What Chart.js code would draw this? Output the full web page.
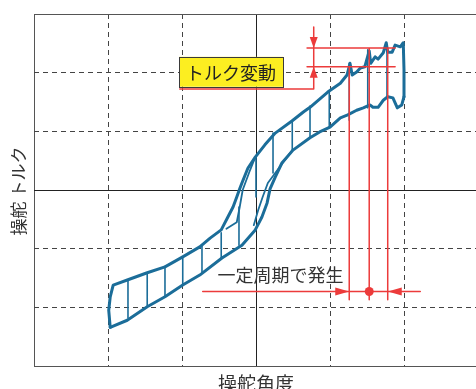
<!DOCTYPE html>
<html><head><meta charset="utf-8">
<script src="https://cdn.jsdelivr.net/npm/chart.js@4.4.1/dist/chart.umd.min.js"></script>
<style>html,body{margin:0;padding:0;background:#fff;overflow:hidden;width:476px;height:389px}#wrap{position:relative;width:480px;height:389px}canvas{display:block}</style>
</head><body><div id="wrap"><canvas id="c" width="480" height="389"></canvas></div>
<script>
// ---- data (axis units, grid -3..3) ----
const axisTitleX = '操舵角度';
const axisTitleY = '操舵 トルク';
const labelTorque = 'トルク変動';
const labelPeriod = '一定周期で発生';
const gridTicks = [-3, -2, -1, 0, 1, 2, 3];

const upperX = [-1.97,-1.99,-1.97,-1.93,-1.73,-1.47,-1.23,-0.99,-0.76,-0.62,-0.47,-0.38,-0.31,-0.26,-0.22,-0.19,-0.11,-0.01,0.12,0.26,0.49,0.64,0.73,0.97,1.14,1.23,1.27,1.30,1.36,1.41,1.47,1.53,1.55,1.61,1.65,1.72,1.76,1.78,1.84,1.88,1.95,1.99,2.00,2.00];
const upperY = [-2.34,-2.05,-1.82,-1.62,-1.53,-1.41,-1.31,-1.14,-0.97,-0.82,-0.68,-0.46,-0.29,-0.12,0.02,0.12,0.37,0.56,0.77,0.97,1.18,1.33,1.41,1.67,1.82,1.96,2.16,1.96,2.01,2.08,2.10,2.37,2.16,2.27,2.23,2.34,2.51,2.35,2.35,2.47,2.44,2.51,2.05,1.59];

const lowerX = [2.00,1.97,1.91,1.85,1.78,1.72,1.65,1.58,1.54,1.45,1.36,1.24,1.14,1.00,0.86,0.73,0.50,0.35,0.26,0.19,0.15,0.08,-0.01,-0.19,-0.46,-0.76,-0.99,-1.23,-1.47,-1.74,-1.97];
const lowerY = [1.59,1.45,1.40,1.57,1.59,1.53,1.41,1.41,1.45,1.40,1.36,1.28,1.23,1.07,0.99,0.89,0.68,0.46,0.22,0.02,-0.22,-0.46,-0.68,-0.94,-1.16,-1.45,-1.62,-1.82,-1.99,-2.22,-2.34];

const innerUpperX = [-0.01,-0.08,-0.18,-0.22,-0.26,-0.40];
const innerUpperY = [0.56,0.34,0.00,-0.29,-0.55,-0.66];
const innerLowerX = [0.49,0.26,0.16,0.09,0.03,-0.03];
const innerLowerY = [0.68,0.29,0.12,-0.12,-0.34,-0.60];

const rungX      = [-1.73,-1.47,-1.23,-0.99,-0.73,-0.47,-0.23,0,0.23,0.49,0.73,0.99,1.26,1.51,1.77];
const rungTop    = [-1.53,-1.41,-1.30,-1.14,-0.95,-0.73,-0.29,0.56,0.97,1.19,1.43,1.67,2.16,2.39,2.47];
const rungBottom = [-2.18,-1.99,-1.82,-1.60,-1.41,-1.16,-0.94,-0.12,0.29,0.68,0.90,1.07,1.19,1.40,1.57];

// annotation values
const bandY = [2.42, 2.10];
const bandX = [0.69, 1.88];
const leaderX = 0.78, leaderTopY = 2.78, leaderBottomY = 1.72, leaderLeftX = -1.03;
const periodX = [1.26, 1.53, 1.78];
const periodTopY = [2.10, 2.42, 2.42];
const periodBottomY = -1.87;
const arrowY = -1.73;
const arrowLineX = [-0.72, 2.22];
const dotX = 1.53;

// ---- build ----
const BLUE = '#1b6d99';
const RED = '#ec3b3b';
const pts = (xs, ys) => xs.map((v, i) => ({x: v, y: ys[i]}));
const rungPts = [];
rungX.forEach((v, i) => { rungPts.push({x: v, y: rungTop[i]}, {x: v, y: rungBottom[i]}, {x: v, y: null}); });
const redPts = [];
bandY.forEach(v => redPts.push({x: bandX[0], y: v}, {x: bandX[1], y: v}, {x: bandX[1], y: null}));
redPts.push({x: leaderX, y: leaderTopY}, {x: leaderX, y: leaderBottomY}, {x: leaderLeftX, y: leaderBottomY}, {x: leaderLeftX, y: null});
periodX.forEach((v, i) => redPts.push({x: v, y: periodTopY[i]}, {x: v, y: periodBottomY}, {x: v, y: null}));
redPts.push({x: arrowLineX[0], y: arrowY}, {x: arrowLineX[1], y: arrowY});

const solidAt = v => v === 0 || v === -3 || v === 3;

const annot = {
  id: 'annot',
  afterDatasetsDraw(chart) {
    const {ctx, scales: {x, y}} = chart;
    const px = v => x.getPixelForValue(v), py = v => y.getPixelForValue(v);
    const tri = (tx, ty, dx, dy, L, W) => {
      const bx = tx - dx * L, by = ty - dy * L;
      ctx.beginPath();
      ctx.moveTo(tx, ty);
      ctx.lineTo(bx - dy * W, by + dx * W);
      ctx.lineTo(bx + dy * W, by - dx * W);
      ctx.closePath();
      ctx.fill();
    };
    ctx.save();
    ctx.fillStyle = RED;
    tri(px(leaderX), py(bandY[0]), 0, 1, 11, 4);
    tri(px(leaderX), py(bandY[1]), 0, -1, 11, 4);
    tri(px(periodX[0]), py(arrowY), 1, 0, 14, 4);
    tri(px(periodX[2]), py(arrowY), -1, 0, 14, 4);
    // yellow label box
    const bl = px(-1.04), br = px(0.365), bt = py(2.27), bb = py(1.76);
    ctx.fillStyle = '#fcee21';
    ctx.fillRect(bl, bt, br - bl, bb - bt);
    ctx.strokeStyle = '#3a3a3a';
    ctx.lineWidth = 1;
    ctx.strokeRect(Math.round(bl) + 0.5, Math.round(bt) + 0.5, Math.round(br - bl), Math.round(bb - bt));
    ctx.fillStyle = '#222';
    ctx.font = "18px 'Noto Sans CJK JP'";
    ctx.textAlign = 'center';
    ctx.textBaseline = 'middle';
    ctx.fillText(labelTorque, (bl + br) / 2, (bt + bb) / 2 + 1);
    ctx.textAlign = 'left';
    ctx.fillStyle = '#333';
    ctx.fillText(labelPeriod, px(-0.52), py(-1.45));
    // axis titles
    ctx.font = "19px 'Noto Sans CJK JP'";
    ctx.textAlign = 'center';
    ctx.fillStyle = '#333';
    ctx.fillText(axisTitleX, px(0), 384);
    ctx.translate(19, py(0) + 1);
    ctx.rotate(-Math.PI / 2);
    ctx.font = "17px 'Noto Sans CJK JP'";
    ctx.fillText(axisTitleY, 0, 0);
    ctx.restore();
  }
};

new Chart(document.getElementById('c'), {
  type: 'line',
  data: {
    datasets: [
      {data: redPts, borderColor: RED, borderWidth: 1.5, order: 0, spanGaps: false},
      {data: [{x: dotX, y: arrowY}], showLine: false, pointRadius: 4.5, pointBackgroundColor: RED, pointBorderWidth: 0, order: 0},
      {data: pts(upperX, upperY), borderColor: BLUE, borderWidth: 3, order: 1},
      {data: pts(lowerX, lowerY), borderColor: BLUE, borderWidth: 3, order: 1},
      {data: pts(innerUpperX, innerUpperY), borderColor: BLUE, borderWidth: 1.8, order: 1},
      {data: pts(innerLowerX, innerLowerY), borderColor: BLUE, borderWidth: 1.8, order: 1},
      {data: rungPts, borderColor: BLUE, borderWidth: 1.6, order: 1, spanGaps: false}
    ]
  },
  options: {
    responsive: false,
    animation: false,
    events: [],
    layout: {autoPadding: false, padding: {left: 34, top: 14, right: 2, bottom: 23}},
    elements: {point: {radius: 0}, line: {tension: 0, borderJoinStyle: 'round', borderCapStyle: 'round', fill: false}},
    plugins: {legend: {display: false}, tooltip: {enabled: false}},
    scales: {
      x: {
        type: 'linear', min: -3, max: 3,
        afterBuildTicks: s => { s.ticks = gridTicks.map(v => ({value: v})); },
        ticks: {display: false},
        grid: {drawTicks: false, lineWidth: 1, color: c => (c.tick && solidAt(c.tick.value)) ? (c.tick.value === 0 ? '#222' : '#555') : '#444'},
        border: {display: false, dash: c => (c.tick && solidAt(c.tick.value)) ? [] : [5, 4]}
      },
      y: {
        type: 'linear', min: -3, max: 3,
        afterBuildTicks: s => { s.ticks = gridTicks.map(v => ({value: v})); },
        ticks: {display: false},
        grid: {drawTicks: false, lineWidth: 1, color: c => (c.tick && solidAt(c.tick.value)) ? (c.tick.value === 0 ? '#222' : '#555') : '#444'},
        border: {display: false, dash: c => (c.tick && solidAt(c.tick.value)) ? [] : [5, 4]}
      }
    }
  },
  plugins: [annot]
});
</script>
</body></html>
